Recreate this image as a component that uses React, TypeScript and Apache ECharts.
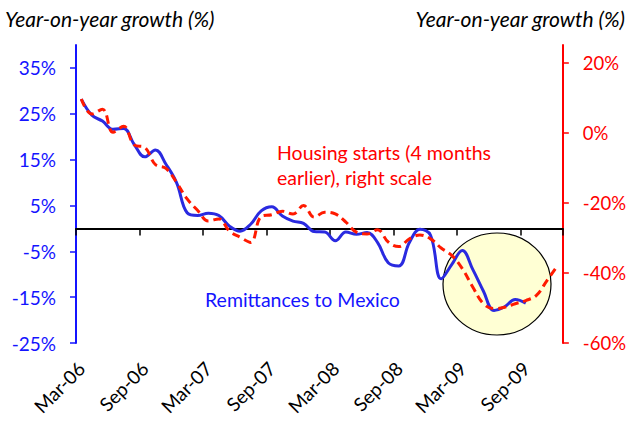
import React, { useEffect, useRef } from "react";
import * as echarts from "echarts";

// Monthly, Mar-06 .. Dec-09
const months: string[] = [];
const monthNames = ["Jan", "Feb", "Mar", "Apr", "May", "Jun", "Jul", "Aug", "Sep", "Oct", "Nov", "Dec"];
for (let y = 6; y <= 9; y++) {
  for (let m = 0; m < 12; m++) {
    if (y === 6 && m < 2) continue;
    months.push(`${monthNames[m]}-0${y}`);
  }
}

// Remittances to Mexico, y/y growth (%), left scale
const remittances: (number | null)[] = [
  28.2, 24.7, 23.4, 21.6, 21.8, 18.3, 15.6, 17.1, 14.0, 10.0, 3.4, 2.8,
  3.3, 2.8, 0.5, -0.6, 0.9, 3.8, 4.7, 2.7, 1.6, 1.1, -0.7, -0.8,
  -2.7, -0.8, -1.3, -0.9, -3.1, -7.5, -8.2, -3.1, -0.2, -1.5, -11.0, -7.9,
  -4.8, -9.0, -13.7, -17.9, -17.1, -15.5, -16.3, null, null, null,
];

// US housing starts (4 months earlier), y/y growth (%), right scale
const housingStarts: number[] = [
  9.6, 5.3, 6.7, 0.1, 1.8, -3.5, -4.2, -9.1, -10.2, -14.2, -18.9, -22.2,
  -25.2, -24.6, -28.1, -29.8, -31.3, -23.9, -23.4, -22.4, -23.2, -20.8, -24.1, -22.7,
  -23.2, -25.5, -28.4, -28.9, -27.7, -31.2, -32.5, -30.3, -29.2, -30.3, -32.9, -35.0,
  -38.8, -44.1, -48.8, -50.2, -49.8, -48.8, -47.9, -46.4, -42.2, -37.9,
];

const leftTicks = [-25, -15, -5, 5, 15, 25, 35];
const rightTicks = [-60, -40, -20, 0, 20];

const FONT = "Lato";
const BLUE = "#1414ff";
const RED = "#ff0000";

const App: React.FC = () => {
  const chartRef = useRef<HTMLDivElement>(null);

  useEffect(() => {
    if (!chartRef.current) return;
    const chart = echarts.init(chartRef.current, undefined, { renderer: "svg" });

    const gridPos = { left: 76, right: 66, top: 45, bottom: 80 };

    const option: echarts.EChartsOption = {
      animation: false,
      textStyle: { fontFamily: FONT },
      grid: [
        { ...gridPos },
        { ...gridPos },
      ],
      xAxis: [
        {
          // zero line with ticks every 6 months
          type: "category",
          gridIndex: 0,
          data: months,
          boundaryGap: true,
          axisLine: { onZero: true, onZeroAxisIndex: 0, lineStyle: { color: "#000", width: 2 } },
          axisTick: { show: true, interval: 5, length: 7, lineStyle: { color: "#000", width: 1.5 } },
          axisLabel: { show: false },
          splitLine: { show: false },
        },
        {
          // bottom labels
          type: "category",
          gridIndex: 1,
          data: months,
          boundaryGap: true,
          position: "bottom",
          axisLine: { show: false },
          axisTick: { show: false },
          axisLabel: {
            interval: 5,
            rotate: 45,
            margin: 22,
            color: "#000",
            fontSize: 19,
            fontFamily: FONT,
          },
          splitLine: { show: false },
        },
      ],
      yAxis: [
        {
          type: "value",
          gridIndex: 0,
          position: "left",
          min: -25,
          max: 40,
          axisLine: { show: true, onZero: false, lineStyle: { color: BLUE, width: 2 } },
          axisTick: { show: true, length: 6, customValues: leftTicks, lineStyle: { color: BLUE, width: 1.5 } },
          axisLabel: {
            customValues: leftTicks,
            formatter: "{value}%",
            color: BLUE,
            fontSize: 19,
            fontFamily: FONT,
            margin: 20,
          },
          splitLine: { show: false },
        },
        {
          type: "value",
          gridIndex: 0,
          position: "right",
          min: -60,
          max: 25,
          axisLine: { show: true, onZero: false, lineStyle: { color: RED, width: 2 } },
          axisTick: { show: true, length: 6, customValues: rightTicks, lineStyle: { color: RED, width: 1.5 } },
          axisLabel: {
            customValues: rightTicks,
            formatter: "{value}%",
            color: RED,
            fontSize: 18.5,
            fontFamily: FONT,
            margin: 20,
          },
          splitLine: { show: false },
        },
        {
          type: "value",
          gridIndex: 1,
          show: false,
        },
      ],
      graphic: [
        {
          type: "ellipse",
          shape: { cx: 497, cy: 284, rx: 54, ry: 51 },
          style: { fill: "#ffffd4", stroke: "#000", lineWidth: 1.2 },
          z: 0,
        },
        {
          type: "text",
          x: 5,
          y: 18,
          style: {
            text: "Year-on-year growth (%)",
            fill: "#000",
            font: `italic 21px ${FONT}`,
            align: "left",
            verticalAlign: "middle",
          },
        },
        {
          type: "text",
          x: 625,
          y: 18,
          style: {
            text: "Year-on-year growth (%)",
            fill: "#000",
            font: `italic 21px ${FONT}`,
            align: "right",
            verticalAlign: "middle",
          },
        },
        {
          type: "text",
          x: 277,
          y: 140,
          style: {
            text: "Housing starts (4 months\nearlier), right scale",
            fill: RED,
            font: `19.5px ${FONT}`,
            lineHeight: 25,
            align: "left",
            verticalAlign: "top",
          },
          z: 10,
        },
        {
          type: "text",
          x: 205,
          y: 299,
          style: {
            text: "Remittances to Mexico",
            fill: BLUE,
            font: `19.5px ${FONT}`,
            align: "left",
            verticalAlign: "middle",
          },
          z: 10,
        },
      ],
      series: [
        {
          name: "Remittances to Mexico",
          type: "line",
          xAxisIndex: 0,
          yAxisIndex: 0,
          data: remittances,
          smooth: 0.4,
          showSymbol: false,
          lineStyle: { color: "#2a2ae0", width: 3 },
          z: 3,
        },
        {
          name: "Housing starts",
          type: "line",
          xAxisIndex: 0,
          yAxisIndex: 1,
          data: housingStarts,
          smooth: 0.4,
          showSymbol: false,
          lineStyle: { color: "#ff1a00", width: 3, type: [8, 5] },
          z: 4,
        },
      ],
    };

    chart.setOption(option);

    return () => {
      chart.dispose();
    };
  }, []);

  return (
    <div
      ref={chartRef}
      style={{ position: "absolute", left: 0, top: 0, width: 629, height: 423 }}
    />
  );
};

export default App;
